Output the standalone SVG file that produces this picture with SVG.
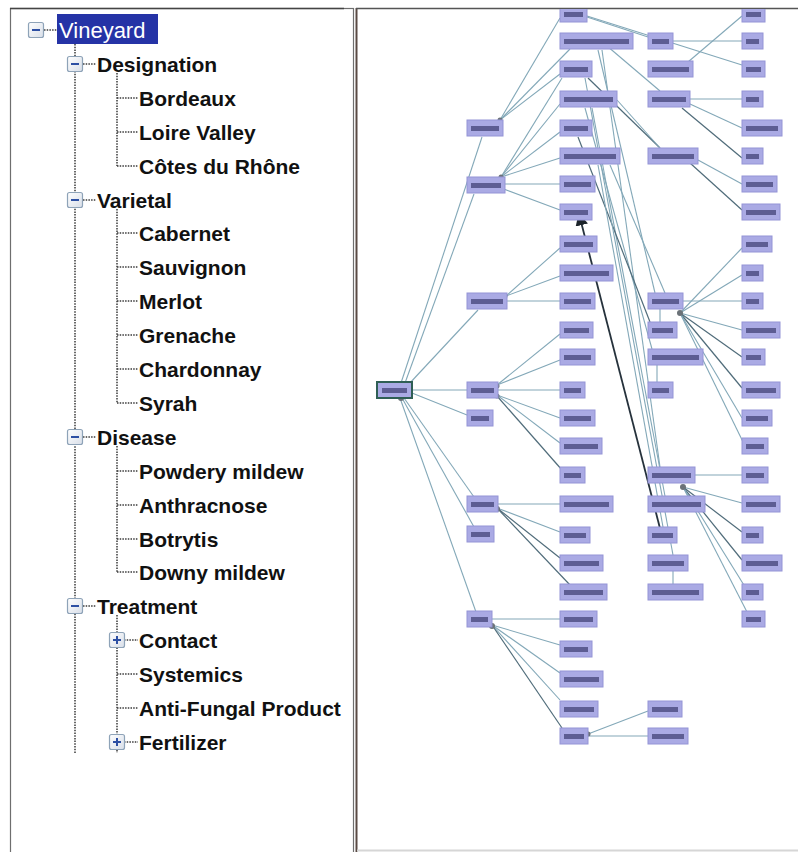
<svg xmlns="http://www.w3.org/2000/svg" width="798" height="852" viewBox="0 0 798 852">
<style>
.t{font-family:"Liberation Sans",Arial,sans-serif;font-size:21px;font-weight:bold;fill:#111}
.sel{fill:#fff}
.dot{stroke:#3a3a3a;stroke-width:1.5;stroke-dasharray:1.5 1.2;fill:none}
.bx{fill:url(#bxg);stroke:#8ea3b8;stroke-width:1.2}
.sg{stroke:#2d4fa3;stroke-width:2}
.n{fill:#aaaae4;stroke:#9494d6;stroke-width:1}
.root{fill:#aaaae4;stroke:#2f5f55;stroke-width:2}
.lb{fill:#2a2a5e;opacity:.6}
.e{stroke:#83a8b8;stroke-width:1.1;fill:none}
.ed{stroke:#506c7a;stroke-width:1.2;fill:none}
.dk{stroke:#26323c;stroke-width:1.8;fill:none}
.hub{fill:#6b7278}
</style>
<defs>
<linearGradient id="bxg" x1="0" y1="0" x2="1" y2="1"><stop offset="0" stop-color="#ffffff"/><stop offset="1" stop-color="#d8dee8"/></linearGradient>
<marker id="ah" viewBox="0 0 10 10" refX="9" refY="5" markerWidth="7" markerHeight="7" orient="auto"><path d="M0,0L10,5L0,10z" fill="#1c242a"/></marker>
<clipPath id="rp"><rect x="357" y="9" width="441" height="843"/></clipPath>
</defs>
<rect width="798" height="852" fill="#fff"/>

<g id="tree-panel">
<rect x="10.5" y="8.5" width="343" height="845" fill="#fff" stroke="#6e6e6e" stroke-width="1.2"/>
<line x1="10" y1="8.5" x2="344" y2="8.5" stroke="#444" stroke-width="1.5"/>
</g>

<g id="tree-lines">
<line class="dot" x1="44" y1="30" x2="57" y2="30"/>
<line class="dot" x1="75" y1="44" x2="75" y2="753"/>
<line class="dot" x1="83" y1="64" x2="96" y2="64"/>
<line class="dot" x1="83" y1="200" x2="96" y2="200"/>
<line class="dot" x1="83" y1="437" x2="96" y2="437"/>
<line class="dot" x1="83" y1="606" x2="96" y2="606"/>
<line class="dot" x1="117" y1="73" x2="117" y2="166"/>
<line class="dot" x1="117" y1="209" x2="117" y2="403"/>
<line class="dot" x1="117" y1="446" x2="117" y2="572"/>
<line class="dot" x1="117" y1="615" x2="117" y2="753"/>
<line class="dot" x1="117" y1="98" x2="138" y2="98"/>
<line class="dot" x1="117" y1="132" x2="138" y2="132"/>
<line class="dot" x1="117" y1="166" x2="138" y2="166"/>
<line class="dot" x1="117" y1="233" x2="138" y2="233"/>
<line class="dot" x1="117" y1="267" x2="138" y2="267"/>
<line class="dot" x1="117" y1="301" x2="138" y2="301"/>
<line class="dot" x1="117" y1="335" x2="138" y2="335"/>
<line class="dot" x1="117" y1="369" x2="138" y2="369"/>
<line class="dot" x1="117" y1="403" x2="138" y2="403"/>
<line class="dot" x1="117" y1="471" x2="138" y2="471"/>
<line class="dot" x1="117" y1="505" x2="138" y2="505"/>
<line class="dot" x1="117" y1="539" x2="138" y2="539"/>
<line class="dot" x1="117" y1="572" x2="138" y2="572"/>
<line class="dot" x1="124" y1="640" x2="138" y2="640"/>
<line class="dot" x1="117" y1="674" x2="138" y2="674"/>
<line class="dot" x1="117" y1="708" x2="138" y2="708"/>
<line class="dot" x1="124" y1="742" x2="138" y2="742"/>
</g>

<g id="t-vineyard">
<rect x="57" y="14" width="101" height="30" fill="#2533a6"/>
<rect class="bx" x="28.5" y="22.5" width="15" height="15" rx="2"/>
<line class="sg" x1="32" y1="30" x2="40" y2="30"/>
<text class="t sel" x="59" y="38" style="font-weight:normal;font-size:22px">Vineyard</text>
</g>
<g id="t-designation">
<rect class="bx" x="67.5" y="56.5" width="15" height="15" rx="2"/>
<line class="sg" x1="71" y1="64" x2="79" y2="64"/>
<text class="t" x="97" y="72">Designation</text>
</g>
<g id="t-bordeaux"><text class="t" x="139" y="106">Bordeaux</text></g>
<g id="t-loire"><text class="t" x="139" y="140">Loire Valley</text></g>
<g id="t-cotes"><text class="t" x="139" y="174">Côtes du Rhône</text></g>
<g id="t-varietal">
<rect class="bx" x="67.5" y="192.5" width="15" height="15" rx="2"/>
<line class="sg" x1="71" y1="200" x2="79" y2="200"/>
<text class="t" x="97" y="208">Varietal</text>
</g>
<g id="t-cabernet"><text class="t" x="139" y="241">Cabernet</text></g>
<g id="t-sauvignon"><text class="t" x="139" y="275">Sauvignon</text></g>
<g id="t-merlot"><text class="t" x="139" y="309">Merlot</text></g>
<g id="t-grenache"><text class="t" x="139" y="343">Grenache</text></g>
<g id="t-chardonnay"><text class="t" x="139" y="377">Chardonnay</text></g>
<g id="t-syrah"><text class="t" x="139" y="411">Syrah</text></g>
<g id="t-disease">
<rect class="bx" x="67.5" y="429.5" width="15" height="15" rx="2"/>
<line class="sg" x1="71" y1="437" x2="79" y2="437"/>
<text class="t" x="97" y="445">Disease</text>
</g>
<g id="t-powdery"><text class="t" x="139" y="479">Powdery mildew</text></g>
<g id="t-anthracnose"><text class="t" x="139" y="513">Anthracnose</text></g>
<g id="t-botrytis"><text class="t" x="139" y="547">Botrytis</text></g>
<g id="t-downy"><text class="t" x="139" y="580">Downy mildew</text></g>
<g id="t-treatment">
<rect class="bx" x="67.5" y="598.5" width="15" height="15" rx="2"/>
<line class="sg" x1="71" y1="606" x2="79" y2="606"/>
<text class="t" x="97" y="614">Treatment</text>
</g>
<g id="t-contact">
<rect class="bx" x="109.5" y="632.5" width="15" height="15" rx="2"/>
<line class="sg" x1="113" y1="640" x2="121" y2="640"/>
<line class="sg" x1="117" y1="636" x2="117" y2="644"/>
<text class="t" x="139" y="648">Contact</text>
</g>
<g id="t-systemics"><text class="t" x="139" y="682">Systemics</text></g>
<g id="t-antifungal"><text class="t" x="139" y="716">Anti-Fungal Product</text></g>
<g id="t-fertilizer">
<rect class="bx" x="109.5" y="734.5" width="15" height="15" rx="2"/>
<line class="sg" x1="113" y1="742" x2="121" y2="742"/>
<line class="sg" x1="117" y1="738" x2="117" y2="746"/>
<text class="t" x="139" y="750">Fertilizer</text>
</g>

<g id="graph-panel">
<line x1="356.5" y1="8" x2="356.5" y2="852" stroke="#5a4a44" stroke-width="2"/>
<line x1="356" y1="8.5" x2="798" y2="8.5" stroke="#555" stroke-width="1.5"/>
<line x1="357" y1="850.5" x2="798" y2="850.5" stroke="#d6d6d6" stroke-width="2"/>
</g>

<g clip-path="url(#rp)">
<g id="connectors">
<line class="e" x1="401" y1="383" x2="482" y2="137"/>
<line class="e" x1="405" y1="383" x2="474" y2="194"/>
<line class="e" x1="409" y1="384" x2="478" y2="310"/>
<line class="e" x1="412" y1="390" x2="467" y2="390"/>
<line class="e" x1="412" y1="393" x2="467" y2="415"/>
<line class="e" x1="404" y1="398" x2="474" y2="497"/>
<line class="e" x1="402" y1="398" x2="474" y2="527"/>
<line class="e" x1="400" y1="398" x2="476" y2="612"/>
<line class="e" x1="500" y1="120" x2="560" y2="18"/>
<line class="e" x1="500" y1="120" x2="570" y2="49"/>
<line class="e" x1="500" y1="120" x2="560" y2="74"/>
<line class="e" x1="501" y1="177" x2="562" y2="78"/>
<line class="e" x1="501" y1="177" x2="560" y2="104"/>
<line class="e" x1="501" y1="177" x2="560" y2="132"/>
<line class="e" x1="501" y1="177" x2="560" y2="158"/>
<line class="e" x1="505" y1="184" x2="560" y2="184"/>
<line class="e" x1="501" y1="188" x2="560" y2="210"/>
<line class="e" x1="506" y1="296" x2="560" y2="248"/>
<line class="e" x1="506" y1="296" x2="560" y2="276"/>
<line class="e" x1="507" y1="301" x2="560" y2="301"/>
<line class="e" x1="497" y1="385" x2="560" y2="334"/>
<line class="e" x1="497" y1="385" x2="560" y2="360"/>
<line class="e" x1="498" y1="390" x2="560" y2="390"/>
<line class="e" x1="497" y1="395" x2="560" y2="418"/>
<line class="e" x1="497" y1="395" x2="560" y2="443"/>
<line class="ed" x1="497" y1="396" x2="562" y2="470"/>
<line class="e" x1="498" y1="504" x2="560" y2="504"/>
<line class="e" x1="497" y1="508" x2="560" y2="532"/>
<line class="ed" x1="497" y1="508" x2="560" y2="558"/>
<line class="ed" x1="497" y1="508" x2="570" y2="585"/>
<line class="e" x1="492" y1="619" x2="560" y2="619"/>
<line class="e" x1="492" y1="625" x2="560" y2="645"/>
<line class="e" x1="492" y1="625" x2="560" y2="673"/>
<line class="e" x1="492" y1="625" x2="560" y2="700"/>
<line class="ed" x1="492" y1="625" x2="562" y2="728"/>
<line class="e" x1="588" y1="734" x2="648" y2="711"/>
<line class="e" x1="588" y1="736" x2="648" y2="736"/>
<line class="e" x1="587" y1="17" x2="648" y2="37"/>
<line class="e" x1="587" y1="16" x2="742" y2="65"/>
<line class="e" x1="600" y1="40" x2="660" y2="91"/>
<line class="e" x1="688" y1="62" x2="742" y2="16"/>
<line class="e" x1="673" y1="41" x2="742" y2="41"/>
<line class="e" x1="690" y1="99" x2="742" y2="99"/>
<line class="e" x1="690" y1="104" x2="742" y2="128"/>
<line class="ed" x1="682" y1="108" x2="742" y2="158"/>
<line class="e" x1="698" y1="160" x2="742" y2="184"/>
<line class="ed" x1="690" y1="163" x2="742" y2="210"/>
<line class="ed" x1="588" y1="78" x2="660" y2="148"/>
<line class="e" x1="617" y1="100" x2="660" y2="148"/>
<line class="e" x1="680" y1="313" x2="742" y2="248"/>
<line class="e" x1="680" y1="313" x2="742" y2="275"/>
<line class="e" x1="683" y1="301" x2="742" y2="301"/>
<line class="e" x1="680" y1="313" x2="742" y2="330"/>
<line class="ed" x1="680" y1="313" x2="742" y2="357"/>
<line class="ed" x1="680" y1="313" x2="742" y2="388"/>
<line class="e" x1="680" y1="313" x2="742" y2="418"/>
<line class="e" x1="680" y1="313" x2="745" y2="446"/>
<line class="e" x1="660" y1="309" x2="660" y2="322"/>
<line class="e" x1="657" y1="365" x2="657" y2="382"/>
<line class="e" x1="695" y1="475" x2="742" y2="475"/>
<line class="e" x1="683" y1="487" x2="742" y2="503"/>
<line class="ed" x1="683" y1="487" x2="742" y2="532"/>
<line class="ed" x1="683" y1="487" x2="742" y2="560"/>
<line class="e" x1="683" y1="487" x2="747" y2="590"/>
<line class="e" x1="683" y1="487" x2="747" y2="612"/>
<line class="e" x1="673" y1="571" x2="673" y2="584"/>
<line class="e" x1="598" y1="50" x2="655" y2="293"/>
<line class="e" x1="602" y1="50" x2="660" y2="467"/>
<line class="e" x1="585" y1="108" x2="652" y2="349"/>
<line class="e" x1="592" y1="108" x2="665" y2="496"/>
<line class="ed" x1="578" y1="137" x2="650" y2="322"/>
<line class="e" x1="598" y1="165" x2="663" y2="527"/>
<line class="e" x1="585" y1="78" x2="673" y2="555"/>
<line class="e" x1="610" y1="165" x2="665" y2="293"/>
<line class="dk" x1="663" y1="540" x2="579" y2="214" marker-end="url(#ah)"/>
<circle class="hub" cx="400" cy="384" r="3"/>
<circle class="hub" cx="401" cy="398" r="3"/>
<circle class="hub" cx="500" cy="120" r="2.5"/>
<circle class="hub" cx="501" cy="177" r="2.5"/>
<circle class="hub" cx="505" cy="296" r="2.5"/>
<circle class="hub" cx="497" cy="386" r="2.5"/>
<circle class="hub" cx="497" cy="396" r="2.5"/>
<circle class="hub" cx="497" cy="509" r="3"/>
<circle class="hub" cx="492" cy="626" r="3"/>
<circle class="hub" cx="680" cy="313" r="3"/>
<circle class="hub" cx="683" cy="487" r="3"/>
<circle class="hub" cx="588" cy="734" r="2.5"/>
</g>

<g id="g-root"><rect class="root" x="377" y="382" width="35" height="16"/><rect class="lb" x="382" y="388" width="25" height="5"/></g>
<g id="g-b1"><rect class="n" x="467" y="120" width="36" height="16"/><rect class="lb" x="471" y="126" width="28" height="5"/></g>
<g id="g-b2"><rect class="n" x="467" y="177" width="38" height="16"/><rect class="lb" x="471" y="183" width="30" height="5"/></g>
<g id="g-b3"><rect class="n" x="467" y="293" width="40" height="16"/><rect class="lb" x="471" y="299" width="32" height="5"/></g>
<g id="g-b4"><rect class="n" x="467" y="382" width="31" height="16"/><rect class="lb" x="471" y="388" width="23" height="5"/></g>
<g id="g-b5"><rect class="n" x="467" y="410" width="26" height="16"/><rect class="lb" x="471" y="416" width="18" height="5"/></g>
<g id="g-b6"><rect class="n" x="467" y="496" width="31" height="16"/><rect class="lb" x="471" y="502" width="23" height="5"/></g>
<g id="g-b7"><rect class="n" x="467" y="526" width="27" height="16"/><rect class="lb" x="471" y="532" width="19" height="5"/></g>
<g id="g-b8"><rect class="n" x="467" y="611" width="25" height="16"/><rect class="lb" x="471" y="617" width="17" height="5"/></g>

<g id="g-c1"><rect class="n" x="560" y="6" width="27" height="16"/><rect class="lb" x="564" y="12" width="19" height="5"/></g>
<g id="g-c2"><rect class="n" x="560" y="33" width="73" height="16"/><rect class="lb" x="564" y="39" width="65" height="5"/></g>
<g id="g-c3"><rect class="n" x="560" y="61" width="32" height="16"/><rect class="lb" x="564" y="67" width="24" height="5"/></g>
<g id="g-c4"><rect class="n" x="560" y="91" width="57" height="16"/><rect class="lb" x="564" y="97" width="49" height="5"/></g>
<g id="g-c5"><rect class="n" x="560" y="120" width="32" height="16"/><rect class="lb" x="564" y="126" width="24" height="5"/></g>
<g id="g-c6"><rect class="n" x="560" y="148" width="60" height="16"/><rect class="lb" x="564" y="154" width="52" height="5"/></g>
<g id="g-c7"><rect class="n" x="560" y="176" width="35" height="16"/><rect class="lb" x="564" y="182" width="27" height="5"/></g>
<g id="g-c8"><rect class="n" x="560" y="204" width="32" height="16"/><rect class="lb" x="564" y="210" width="24" height="5"/></g>
<g id="g-c9"><rect class="n" x="560" y="236" width="37" height="16"/><rect class="lb" x="564" y="242" width="29" height="5"/></g>
<g id="g-c10"><rect class="n" x="560" y="265" width="53" height="16"/><rect class="lb" x="564" y="271" width="45" height="5"/></g>
<g id="g-c11"><rect class="n" x="560" y="293" width="35" height="16"/><rect class="lb" x="564" y="299" width="27" height="5"/></g>
<g id="g-c12"><rect class="n" x="560" y="322" width="33" height="16"/><rect class="lb" x="564" y="328" width="25" height="5"/></g>
<g id="g-c13"><rect class="n" x="560" y="349" width="35" height="16"/><rect class="lb" x="564" y="355" width="27" height="5"/></g>
<g id="g-c14"><rect class="n" x="560" y="382" width="25" height="16"/><rect class="lb" x="564" y="388" width="17" height="5"/></g>
<g id="g-c15"><rect class="n" x="560" y="410" width="35" height="16"/><rect class="lb" x="564" y="416" width="27" height="5"/></g>
<g id="g-c16"><rect class="n" x="560" y="438" width="42" height="16"/><rect class="lb" x="564" y="444" width="34" height="5"/></g>
<g id="g-c17"><rect class="n" x="560" y="467" width="25" height="16"/><rect class="lb" x="564" y="473" width="17" height="5"/></g>
<g id="g-c18"><rect class="n" x="560" y="496" width="53" height="16"/><rect class="lb" x="564" y="502" width="45" height="5"/></g>
<g id="g-c19"><rect class="n" x="560" y="527" width="30" height="16"/><rect class="lb" x="564" y="533" width="22" height="5"/></g>
<g id="g-c20"><rect class="n" x="560" y="555" width="43" height="16"/><rect class="lb" x="564" y="561" width="35" height="5"/></g>
<g id="g-c21"><rect class="n" x="560" y="584" width="47" height="16"/><rect class="lb" x="564" y="590" width="39" height="5"/></g>
<g id="g-c22"><rect class="n" x="560" y="611" width="37" height="16"/><rect class="lb" x="564" y="617" width="29" height="5"/></g>
<g id="g-c23"><rect class="n" x="560" y="641" width="32" height="16"/><rect class="lb" x="564" y="647" width="24" height="5"/></g>
<g id="g-c24"><rect class="n" x="560" y="671" width="43" height="16"/><rect class="lb" x="564" y="677" width="35" height="5"/></g>
<g id="g-c25"><rect class="n" x="560" y="701" width="38" height="16"/><rect class="lb" x="564" y="707" width="30" height="5"/></g>
<g id="g-c26"><rect class="n" x="560" y="728" width="28" height="16"/><rect class="lb" x="564" y="734" width="20" height="5"/></g>

<g id="g-d1"><rect class="n" x="648" y="33" width="25" height="16"/><rect class="lb" x="652" y="39" width="17" height="5"/></g>
<g id="g-d2"><rect class="n" x="648" y="61" width="45" height="16"/><rect class="lb" x="652" y="67" width="37" height="5"/></g>
<g id="g-d3"><rect class="n" x="648" y="91" width="42" height="16"/><rect class="lb" x="652" y="97" width="34" height="5"/></g>
<g id="g-d4"><rect class="n" x="648" y="148" width="50" height="16"/><rect class="lb" x="652" y="154" width="42" height="5"/></g>
<g id="g-d5"><rect class="n" x="648" y="293" width="35" height="16"/><rect class="lb" x="652" y="299" width="27" height="5"/></g>
<g id="g-d6"><rect class="n" x="648" y="322" width="29" height="16"/><rect class="lb" x="652" y="328" width="21" height="5"/></g>
<g id="g-d7"><rect class="n" x="648" y="349" width="55" height="16"/><rect class="lb" x="652" y="355" width="47" height="5"/></g>
<g id="g-d8"><rect class="n" x="648" y="382" width="25" height="16"/><rect class="lb" x="652" y="388" width="17" height="5"/></g>
<g id="g-d9"><rect class="n" x="648" y="467" width="47" height="16"/><rect class="lb" x="652" y="473" width="39" height="5"/></g>
<g id="g-d10"><rect class="n" x="648" y="496" width="57" height="16"/><rect class="lb" x="652" y="502" width="49" height="5"/></g>
<g id="g-d11"><rect class="n" x="648" y="527" width="29" height="16"/><rect class="lb" x="652" y="533" width="21" height="5"/></g>
<g id="g-d12"><rect class="n" x="648" y="555" width="40" height="16"/><rect class="lb" x="652" y="561" width="32" height="5"/></g>
<g id="g-d13"><rect class="n" x="648" y="584" width="55" height="16"/><rect class="lb" x="652" y="590" width="47" height="5"/></g>
<g id="g-d14"><rect class="n" x="648" y="701" width="34" height="16"/><rect class="lb" x="652" y="707" width="26" height="5"/></g>
<g id="g-d15"><rect class="n" x="648" y="728" width="40" height="16"/><rect class="lb" x="652" y="734" width="32" height="5"/></g>

<g id="g-e1"><rect class="n" x="742" y="6" width="23" height="16"/><rect class="lb" x="746" y="12" width="15" height="5"/></g>
<g id="g-e2"><rect class="n" x="742" y="33" width="21" height="16"/><rect class="lb" x="746" y="39" width="13" height="5"/></g>
<g id="g-e3"><rect class="n" x="742" y="61" width="23" height="16"/><rect class="lb" x="746" y="67" width="15" height="5"/></g>
<g id="g-e4"><rect class="n" x="742" y="91" width="21" height="16"/><rect class="lb" x="746" y="97" width="13" height="5"/></g>
<g id="g-e5"><rect class="n" x="742" y="120" width="40" height="16"/><rect class="lb" x="746" y="126" width="32" height="5"/></g>
<g id="g-e6"><rect class="n" x="742" y="148" width="21" height="16"/><rect class="lb" x="746" y="154" width="13" height="5"/></g>
<g id="g-e7"><rect class="n" x="742" y="176" width="35" height="16"/><rect class="lb" x="746" y="182" width="27" height="5"/></g>
<g id="g-e8"><rect class="n" x="742" y="204" width="38" height="16"/><rect class="lb" x="746" y="210" width="30" height="5"/></g>
<g id="g-e9"><rect class="n" x="742" y="236" width="30" height="16"/><rect class="lb" x="746" y="242" width="22" height="5"/></g>
<g id="g-e10"><rect class="n" x="742" y="265" width="21" height="16"/><rect class="lb" x="746" y="271" width="13" height="5"/></g>
<g id="g-e11"><rect class="n" x="742" y="293" width="21" height="16"/><rect class="lb" x="746" y="299" width="13" height="5"/></g>
<g id="g-e12"><rect class="n" x="742" y="322" width="38" height="16"/><rect class="lb" x="746" y="328" width="30" height="5"/></g>
<g id="g-e13"><rect class="n" x="742" y="349" width="23" height="16"/><rect class="lb" x="746" y="355" width="15" height="5"/></g>
<g id="g-e14"><rect class="n" x="742" y="382" width="38" height="16"/><rect class="lb" x="746" y="388" width="30" height="5"/></g>
<g id="g-e15"><rect class="n" x="742" y="410" width="30" height="16"/><rect class="lb" x="746" y="416" width="22" height="5"/></g>
<g id="g-e16"><rect class="n" x="742" y="438" width="26" height="16"/><rect class="lb" x="746" y="444" width="18" height="5"/></g>
<g id="g-e17"><rect class="n" x="742" y="467" width="26" height="16"/><rect class="lb" x="746" y="473" width="18" height="5"/></g>
<g id="g-e18"><rect class="n" x="742" y="496" width="38" height="16"/><rect class="lb" x="746" y="502" width="30" height="5"/></g>
<g id="g-e19"><rect class="n" x="742" y="527" width="21" height="16"/><rect class="lb" x="746" y="533" width="13" height="5"/></g>
<g id="g-e20"><rect class="n" x="742" y="555" width="40" height="16"/><rect class="lb" x="746" y="561" width="32" height="5"/></g>
<g id="g-e21"><rect class="n" x="742" y="584" width="21" height="16"/><rect class="lb" x="746" y="590" width="13" height="5"/></g>
<g id="g-e22"><rect class="n" x="742" y="611" width="23" height="16"/><rect class="lb" x="746" y="617" width="15" height="5"/></g>
</g>
</svg>
